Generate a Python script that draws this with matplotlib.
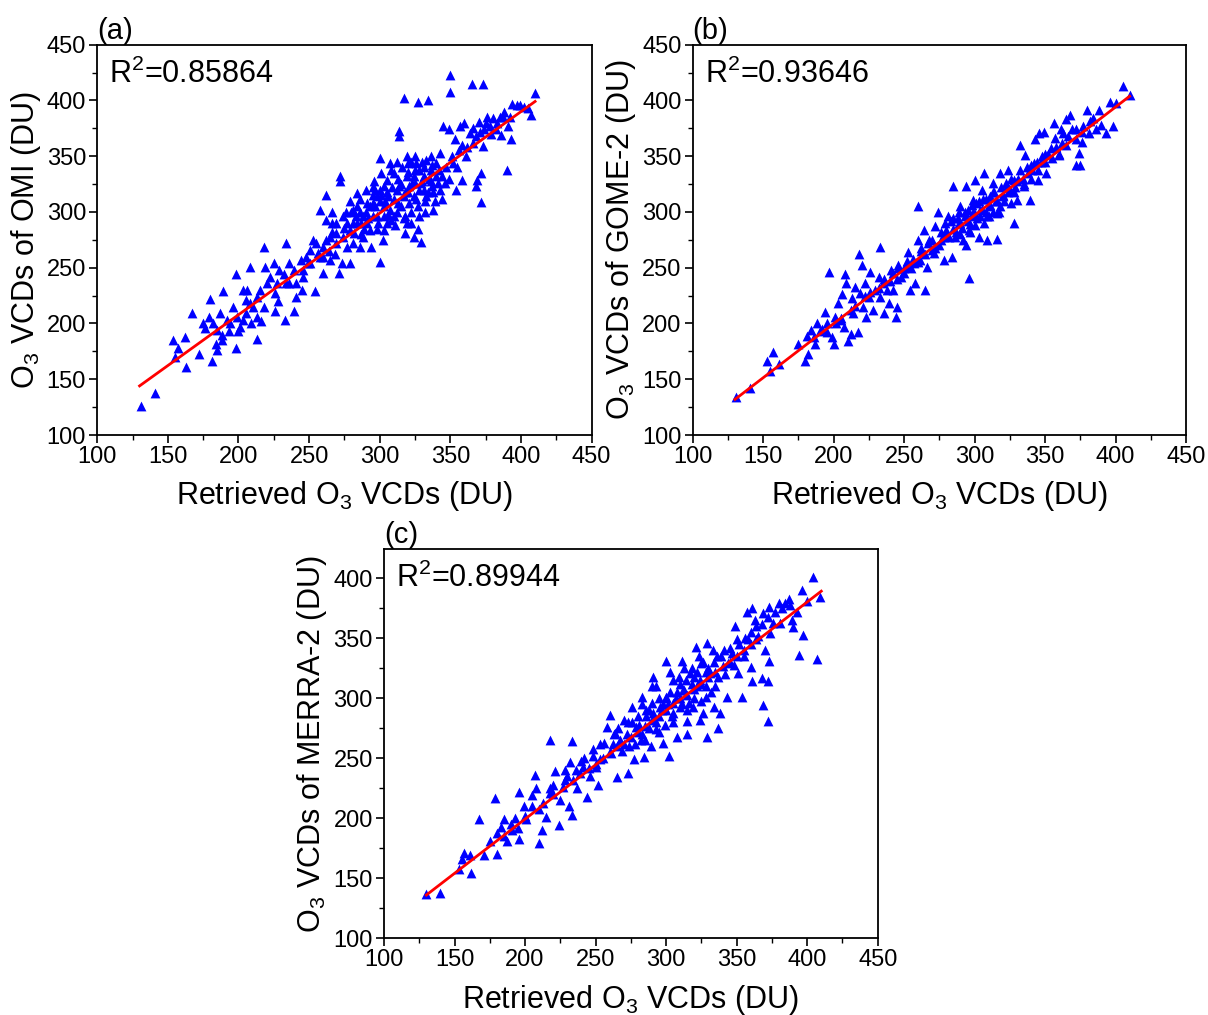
import numpy as np
import matplotlib.pyplot as plt
from matplotlib.ticker import MultipleLocator

plt.rcParams['font.family'] = ['Liberation Sans', 'DejaVu Sans']
plt.rcParams['mathtext.fontset'] = 'custom'
plt.rcParams['mathtext.rm'] = 'Liberation Sans'
plt.rcParams['mathtext.it'] = 'Liberation Sans:italic'

# (retrieved, reference) pairs, in DU
pts_a = np.array([
    (131, 126), (141, 138), (154, 185), (162, 188), (157, 178), (155, 170), (163, 161), (172, 173),
    (167, 209), (176, 196), (181, 166), (180, 222), (182, 200), (184, 182), (185, 176), (189, 229),
    (187, 209), (188, 190), (198, 244), (196, 215), (198, 178), (200, 193), (192, 203), (203, 203),
    (208, 251), (206, 230), (205, 221), (210, 215), (213, 186), (209, 200), (215, 230), (218, 269),
    (219, 251), (218, 215), (216, 202), (225, 254), (226, 227), (228, 220), (226, 211), (234, 272),
    (232, 244), (233, 203), (236, 236), (239, 211), (241, 224), (244, 257), (245, 230), (246, 242),
    (249, 254), (253, 275), (254, 229), (258, 302), (256, 263), (260, 245), (262, 315), (262, 293),
    (266, 300), (266, 282), (265, 257), (269, 281), (272, 332), (272, 328), (273, 254), (271, 245),
    (274, 296), (277, 269), (279, 254), (281, 302), (284, 317), (282, 281), (286, 269), (287, 290),
    (291, 308), (293, 284), (294, 269), (297, 320), (298, 296), (300, 255), (300, 348), (301, 335),
    (303, 284), (306, 314), (307, 344), (308, 293), (310, 335), (313, 308), (314, 373), (314, 368),
    (317, 402), (318, 281), (319, 290), (320, 344), (321, 323), (324, 278), (325, 350), (327, 399),
    (328, 296), (329, 273), (331, 332), (333, 314), (334, 400), (336, 350), (337, 323), (338, 302),
    (340, 344), (343, 353), (344, 332), (345, 377), (346, 326), (349, 374), (350, 423), (350, 408),
    (352, 344), (353, 365), (354, 320), (356, 356), (357, 377), (358, 329), (360, 380), (361, 350),
    (364, 371), (365, 415), (366, 362), (369, 329), (370, 381), (368, 323), (372, 309), (373, 415),
    (372, 335), (373, 359), (374, 374), (376, 385), (378, 377), (380, 384), (382, 374), (385, 385),
    (386, 369), (387, 385), (390, 338), (391, 377), (393, 365), (394, 397), (397, 396), (399, 396),
    (402, 394), (405, 393), (407, 387), (410, 407),
    (284, 305), (288, 296), (295, 308), (303, 305), (307, 302), (312, 320), (317, 314), (321, 308),
    (303, 323), (298, 314), (291, 290), (284, 290), (279, 284), (274, 278), (269, 272), (260, 269),
    (255, 272), (251, 266), (303, 296), (310, 296), (314, 323), (319, 332), (324, 332), (328, 338),
    (331, 320), (336, 338), (340, 332), (333, 347), (326, 344), (319, 350), (324, 314), (328, 320),
    (305, 329), (295, 296), (288, 278), (281, 272), (277, 290), (269, 290), (265, 278), (260, 260),
    (251, 254), (246, 248), (239, 248), (234, 236), (227, 236), (241, 236), (236, 254), (248, 260),
    (175, 200), (179, 206), (185, 194), (194, 200), (199, 206), (205, 209), (208, 218), (213, 224),
    (203, 230), (220, 236), (222, 242), (229, 248), (213, 206), (201, 197), (193, 193), (188, 185),
    (290, 300), (295, 315), (300, 310), (305, 318), (310, 312), (315, 325), (320, 318), (325, 326),
    (330, 328), (335, 330), (298, 285), (305, 290), (312, 300), (318, 296), (322, 290), (327, 305),
    (332, 310), (338, 318), (343, 320), (300, 320), (293, 305), (286, 300), (281, 290), (316, 340),
    (322, 345), (330, 345), (312, 345), (308, 338), (296, 328), (290, 320),
    (276, 300), (279, 310), (283, 296), (286, 312), (289, 285), (292, 295), (295, 322), (297, 305),
    (299, 290), (301, 315), (302, 275), (304, 310), (306, 297), (309, 322), (311, 288), (313, 330),
    (315, 305), (317, 295), (318, 318), (320, 336), (322, 300), (323, 326), (325, 338), (326, 312),
    (327, 285), (329, 326), (331, 340), (332, 300), (334, 318), (336, 328), (337, 342), (339, 310),
    (341, 326), (342, 338), (344, 312), (347, 340), (349, 330), (351, 350), (355, 340), (358, 360),
    (362, 358), (366, 375), (368, 368), (371, 372), (375, 380), (379, 370), (383, 380), (388, 390),
    (392, 385), (264, 265), (268, 262), (258, 260), (262, 275), (266, 290), (287, 280), (275, 286),
    (280, 300),
])

pts_b = np.array([
    (131, 134), (141, 142), (153, 166), (157, 174), (155, 157), (161, 164), (175, 182), (180, 166),
    (182, 173), (181, 189), (184, 194), (187, 182), (188, 200), (190, 193), (194, 210), (195, 200),
    (197, 246), (199, 188), (200, 182), (201, 206), (203, 218), (205, 203), (206, 226), (207, 197),
    (208, 244), (209, 236), (210, 184), (212, 191), (213, 223), (214, 209), (215, 233), (217, 192),
    (218, 262), (219, 227), (220, 252), (221, 215), (222, 236), (223, 206), (225, 224), (226, 246),
    (228, 212), (229, 230), (232, 242), (233, 269), (233, 224), (235, 236), (236, 209), (238, 230),
    (239, 218), (241, 248), (242, 230), (244, 206), (245, 215), (246, 252), (248, 242), (252, 251),
    (253, 264), (254, 230), (257, 254), (258, 236), (260, 305), (260, 275), (261, 257), (264, 284),
    (265, 230), (266, 251), (268, 275), (271, 263), (272, 287), (274, 300), (276, 275), (278, 257),
    (280, 284), (281, 296), (284, 260), (285, 323), (286, 278), (289, 290), (290, 305), (292, 275),
    (294, 270), (294, 323), (296, 284), (296, 241), (298, 296), (299, 311), (300, 329), (303, 278),
    (304, 302), (305, 320), (307, 335), (309, 296), (309, 275), (311, 314), (313, 326), (316, 276),
    (316, 299), (318, 335), (320, 314), (323, 323), (324, 338), (328, 290), (328, 329), (330, 311),
    (332, 338), (332, 360), (335, 323), (336, 351), (338, 335), (339, 311), (342, 344), (343, 365),
    (345, 329), (346, 371), (348, 350), (349, 372), (351, 335), (354, 357), (356, 380), (357, 366),
    (360, 351), (361, 374), (362, 362), (363, 371), (365, 383), (368, 387), (369, 374), (372, 342),
    (374, 353), (375, 342), (372, 374), (376, 363), (377, 377), (380, 391), (381, 371), (384, 384),
    (386, 374), (388, 391), (390, 378), (393, 371), (396, 399), (398, 377), (400, 398), (405, 413),
    (410, 405),
    (280, 280), (285, 285), (290, 290), (295, 292), (300, 298), (305, 303), (310, 305), (315, 310),
    (320, 315), (325, 320), (290, 280), (300, 288), (310, 296), (318, 305), (328, 318), (270, 266),
    (275, 270), (265, 262), (260, 255), (255, 250), (250, 245), (245, 240), (240, 238), (335, 325),
    (340, 330), (345, 338), (350, 345), (355, 348), (360, 352), (330, 328), (283, 292), (293, 300),
    (303, 310), (313, 318), (322, 326), (297, 282), (307, 290), (317, 300), (326, 308), (278, 278),
    (288, 295), (308, 312), (298, 306), (270, 275), (262, 265), (252, 256), (242, 245), (232, 232),
    (222, 225), (212, 212), (202, 200), (192, 195), (186, 188), (350, 352), (340, 342), (365, 360),
    (262, 268), (267, 272), (272, 268), (276, 282), (279, 290), (282, 278), (285, 295), (287, 282),
    (289, 300), (291, 286), (293, 296), (295, 302), (297, 289), (299, 300), (301, 308), (302, 295),
    (304, 296), (306, 312), (308, 300), (311, 306), (313, 300), (314, 318), (316, 310), (319, 322),
    (321, 310), (324, 318), (326, 330), (329, 322), (331, 330), (334, 330), (337, 340), (341, 338),
    (344, 345), (347, 345), (352, 352), (358, 358), (366, 368), (372, 365), (376, 372), (382, 382),
    (256, 258), (250, 250), (246, 250), (236, 240), (226, 228), (215, 216), (205, 205), (195, 192),
])

pts_c = np.array([
    (130, 137), (140, 138), (153, 158), (155, 166), (157, 171), (161, 169), (162, 154), (167, 199),
    (171, 169), (175, 181), (179, 217), (180, 170), (180, 188), (183, 193), (185, 199), (187, 181),
    (191, 190), (193, 200), (196, 222), (196, 183), (199, 210), (201, 199), (205, 219), (207, 236),
    (208, 225), (210, 179), (212, 190), (213, 213), (215, 201), (218, 265), (218, 221), (220, 228),
    (221, 239), (224, 194), (225, 215), (227, 226), (228, 240), (231, 210), (232, 247), (233, 264),
    (233, 203), (234, 232), (237, 225), (239, 238), (241, 243), (244, 218), (246, 235), (248, 258),
    (250, 243), (252, 228), (253, 249), (256, 263), (258, 276), (260, 286), (261, 254), (265, 234),
    (264, 271), (267, 265), (270, 282), (273, 238), (274, 260), (276, 293), (277, 249), (279, 276),
    (282, 265), (283, 301), (284, 251), (286, 285), (289, 260), (290, 310), (291, 318), (293, 274),
    (296, 293), (298, 263), (300, 301), (300, 331), (302, 252), (304, 285), (305, 315), (308, 268),
    (310, 293), (311, 331), (313, 307), (315, 281), (315, 270), (317, 321), (319, 293), (321, 343),
    (322, 310), (324, 282), (325, 329), (326, 288), (328, 301), (329, 268), (329, 346), (331, 321),
    (334, 293), (335, 310), (336, 335), (337, 275), (338, 288), (341, 340), (343, 301), (344, 329),
    (347, 338), (349, 360), (350, 349), (351, 321), (354, 301), (355, 335), (357, 372), (358, 349),
    (360, 326), (361, 375), (361, 314), (363, 365), (364, 349), (368, 317), (369, 294), (369, 371),
    (370, 340), (372, 314), (372, 281), (373, 331), (373, 376), (374, 354), (376, 363), (380, 379),
    (381, 363), (384, 379), (387, 383), (389, 365), (390, 359), (393, 372), (394, 336), (396, 390),
    (397, 353), (400, 381), (404, 401), (407, 333), (409, 384),
    (270, 262), (275, 268), (280, 272), (285, 277), (290, 282), (295, 285), (300, 290), (305, 296),
    (310, 300), (315, 303), (320, 308), (325, 312), (330, 318), (335, 322), (340, 327), (280, 285),
    (290, 296), (300, 300), (310, 312), (320, 318), (285, 265), (295, 272), (305, 280), (315, 290),
    (325, 298), (260, 255), (265, 260), (255, 250), (250, 245), (245, 242), (345, 330), (350, 335),
    (355, 340), (360, 345), (365, 352), (288, 290), (298, 295), (308, 305), (318, 312), (328, 322),
    (303, 322), (313, 325), (323, 335), (333, 340), (293, 310), (283, 295), (273, 280), (263, 270),
    (253, 262), (240, 248), (230, 235), (220, 220), (210, 208), (200, 202), (190, 195),
    (262, 262), (266, 275), (269, 256), (272, 270), (276, 280), (278, 262), (281, 278), (283, 270),
    (286, 290), (288, 275), (291, 288), (293, 280), (295, 300), (297, 290), (299, 278), (301, 295),
    (303, 305), (305, 288), (307, 300), (309, 318), (311, 295), (312, 307), (314, 315), (316, 296),
    (318, 325), (320, 300), (322, 322), (324, 315), (326, 330), (328, 310), (330, 325), (332, 305),
    (334, 330), (337, 318), (339, 335), (342, 320), (345, 342), (348, 328), (352, 345), (356, 350),
    (360, 355), (364, 360), (368, 362), (372, 368), (377, 372), (382, 375), (388, 378), (248, 252),
    (242, 250), (236, 240), (228, 232), (218, 225), (205, 210), (195, 192), (185, 185),
])

xs = [pts_a[:, 0], pts_b[:, 0], pts_c[:, 0]]
ys = [pts_a[:, 1], pts_b[:, 1], pts_c[:, 1]]

# fitted lines (slope, intercept) and R^2 as printed
fits = [(0.911, 25.6), (0.971, 5.7), (0.904, 18.5)]
r2 = ['0.85864', '0.93646', '0.89944']
panels = ['(a)', '(b)', '(c)']
ylabels = ['OMI', 'GOME-2', 'MERRA-2']
ytops = [450, 450, 424]
fit_range = [130, 410]

W, H = 1208, 1015
fig = plt.figure(figsize=(W / 100, H / 100), dpi=100)
boxes = [
    [97.2 / W, 1 - 435 / H, 494.4 / W, 390.3 / H],
    [692.7 / W, 1 - 435 / H, 493.3 / W, 390.3 / H],
    [384 / W, 1 - 938.3 / H, 493.7 / W, 389 / H],
]

for i in range(3):

    ax = fig.add_axes(boxes[i])

    ax.scatter(xs[i], ys[i], marker='^', s=50, color='#0000ff', linewidths=0, zorder=2)

    fx = np.array(fit_range)
    ax.plot(fx, fits[i][0] * fx + fits[i][1], color='#ff0000', lw=2, zorder=3)

    ax.set_xlim(100, 450)
    ax.set_ylim(100, ytops[i])
    ax.xaxis.set_major_locator(MultipleLocator(50))
    ax.yaxis.set_major_locator(MultipleLocator(50))
    ax.xaxis.set_minor_locator(MultipleLocator(25))
    ax.yaxis.set_minor_locator(MultipleLocator(25))
    ax.tick_params(which='major', direction='out', length=6, width=1.2, labelsize=17, pad=2)
    ax.tick_params(which='minor', direction='out', length=3.5, width=1.0)
    for sp in ax.spines.values():
        sp.set_linewidth(1.3)

    ax.set_xlabel(r'Retrieved O$_\mathregular{3}$ VCDs (DU)', fontsize=22, labelpad=8)
    ax.set_ylabel(r'O$_\mathregular{3}$ VCDs of ' + ylabels[i] + ' (DU)', fontsize=22, labelpad=3)

    ax.text(0.024, 0.965, r'R$^\mathregular{2}$=' + r2[i], transform=ax.transAxes,
            fontsize=22, va='top', ha='left')
    ax.text(0.0, 1.0, panels[i], transform=ax.transAxes, fontsize=21, va='bottom', ha='left')

fig.savefig('out.png', dpi=100)
